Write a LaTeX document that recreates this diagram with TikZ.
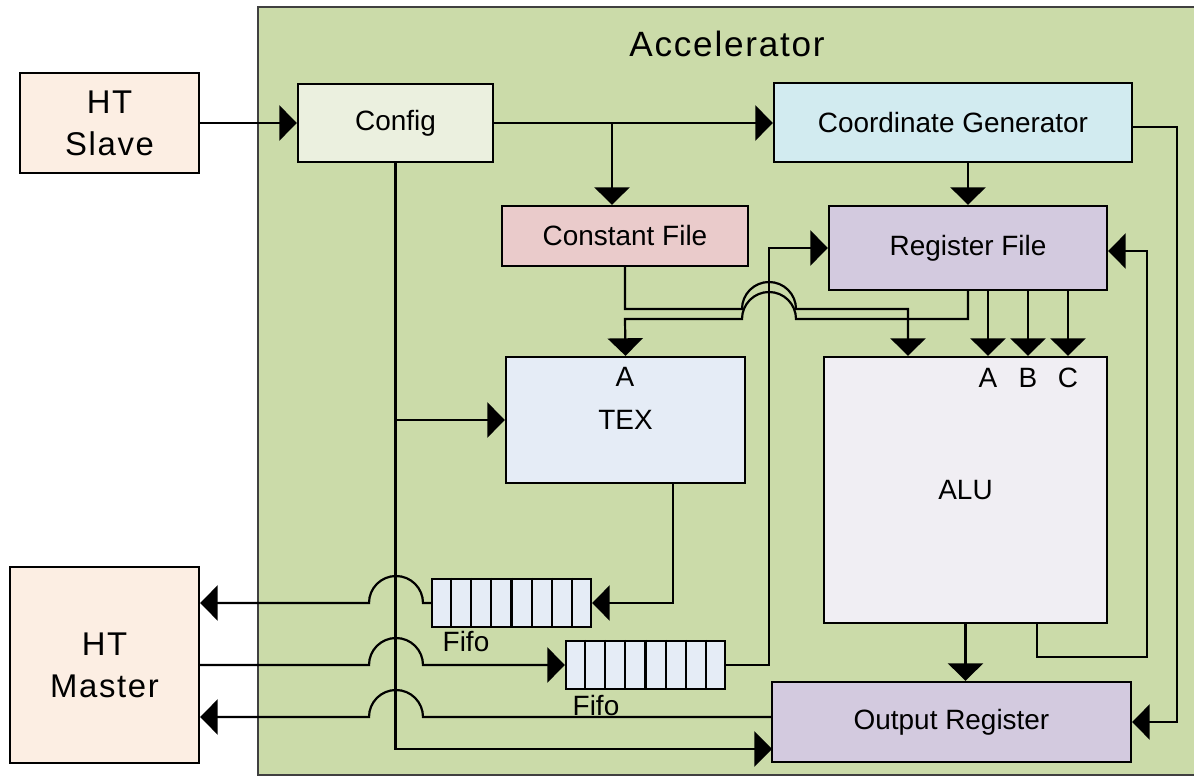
\documentclass[tikz,border=0pt]{standalone}
\usepackage{fontspec}
\setmainfont{Liberation Sans}
\newfontfamily\widefont{Liberation Sans}[LetterSpace=5]
\usetikzlibrary{arrows.meta,calc}

\definecolor{accgreen}{RGB}{203,219,169}
\definecolor{htpeach}{RGB}{252,238,227}
\definecolor{cfgfill}{RGB}{235,240,223}
\definecolor{coordfill}{RGB}{210,235,240}
\definecolor{constfill}{RGB}{234,203,203}
\definecolor{regfill}{RGB}{211,202,223}
\definecolor{texfill}{RGB}{229,236,246}
\definecolor{alufill}{RGB}{240,238,243}

% one drawing unit is 0.02cm; boxes are given as width x height in those units
\tikzset{
  blk/.style 2 args={draw=black, line width=1.3pt, inner sep=0pt, align=center,
              minimum width=#1*0.02cm, minimum height=#2*0.02cm,
              font=\fontsize{15.9}{19}\selectfont},
  htfont/.style={font=\widefont\fontsize{18.7}{23.8}\selectfont},
  lbl/.style={inner sep=0pt, font=\fontsize{15.9}{19}\selectfont},
  wire/.style={line width=1.25pt},
  arr/.style={wire, -{Triangle[length=10pt,width=20pt]}},
  cellline/.style={line width=1.2pt},
}

\begin{document}
\begin{tikzpicture}[x=0.02cm,y=-0.02cm]
\useasboundingbox (0,0) rectangle (1194,776);

% accelerator enclosure
\node[draw=black!75, line width=0.9pt, fill=accgreen, inner sep=0pt,
      minimum width=982*0.02cm, minimum height=768*0.02cm] (acc) at (749,391) {};
\node[inner sep=0pt, font=\widefont\fontsize{20}{24}\selectfont] (acctitle) at (727,44) {Accelerator};

% host side blocks
\node[blk={179}{100}, fill=htpeach, htfont] (slave)  at (109.5,123) {HT\\Slave};
\node[blk={189}{196}, fill=htpeach, htfont] (master) at (104.5,665) {HT\\Master};

% accelerator blocks
\node[blk={195}{78},  fill=cfgfill]   (config) at (395.5,123)  {Config};
\node[blk={358}{79},  fill=coordfill] (coord)  at (953,122.5)  {Coordinate Generator};
\node[blk={246}{60},  fill=constfill] (const)  at (625,236)    {Constant File};
\node[blk={278}{84},  fill=regfill]   (regf)   at (968,248)    {Register File};
\node[blk={239}{126}, fill=texfill]   (tex)    at (625.5,420)  {TEX};
\node[blk={283}{266}, fill=alufill]   (alu)    at (965.5,490)  {ALU};
\node[blk={359}{80},  fill=regfill]   (outr)   at (951.5,722)  {Output Register};

% fifos with eight cells each
\node[blk={159}{48}, fill=texfill] (fifo1) at (511.5,603) {};
\node[blk={159}{48}, fill=texfill] (fifo2) at (645.5,665) {};
\foreach \f in {fifo1,fifo2}
  \foreach \i in {1,...,7}
    \draw[cellline] ($(\f.north west)!\i/8!(\f.north east)$) -- ($(\f.south west)!\i/8!(\f.south east)$);
\node[lbl] (fifo1lbl) at (466,642) {Fifo};
\node[lbl] (fifo2lbl) at (596,706) {Fifo};

% port labels
\node[lbl] (texA) at (625,377) {A};
\node[lbl] (aluA) at (988,378) {A};
\node[lbl] (aluB) at (1028,378) {B};
\node[lbl] (aluC) at (1068,378) {C};

% bend points
\coordinate (orin)  at (772,749);
\coordinate (orout) at (772,717);
\coordinate (cgout) at (1132,127);

% configuration paths
\draw[arr] (slave.east) -- (config.west);
\draw[arr] (config.east) -- (config.east -| coord.west);
\draw[arr] (config.east -| 612,0) -- (const.north -| 612,0);
\draw[arr] (config.south) |- (orin);
\draw[arr] (config.south |- tex.west) -- (tex.west);

% coordinate generator
\draw[arr] (regf.north |- coord.south) -- (regf.north);
\draw[arr] (cgout) -- (1177,127) -- (1177,722) -- (outr.east);

% register file to TEX, hopping over the fifo return line
\draw[arr] (regf.south) -- (968,319) -- (796,319)
  arc[start angle=0, end angle=-180, radius=27] -- (625,319) -- (tex.north);
% constant file to ALU
\draw[arr] (const.south) -- (625,309) -- (742,309)
  arc[start angle=180, end angle=360, radius=27] -- (908,309) -- (alu.north -| 908,0);

% register file operands A, B, C
\foreach \x in {988,1028,1068}
  \draw[arr] (regf.south -| \x,0) -- (alu.north -| \x,0);

% ALU outputs
\draw[arr] (alu.south) -- (alu.south |- outr.north);
\draw[arr] (alu.south -| 1037,0) -- (1037,657) -- (1147,657) -- (1147,251) -- (regf.east |- 0,251);

% TEX to fifo to host
\draw[arr] (tex.south -| 673,0) |- (fifo1.east);
\draw[arr] (fifo1.west) -- (423,603)
  arc[start angle=0, end angle=-180, radius=27] -- (master.east |- fifo1.west);

% host to fifo to register file
\draw[arr] (master.east |- fifo2.west) -- (369,665)
  arc[start angle=180, end angle=360, radius=27] -- (fifo2.west);
\draw[arr] (fifo2.east) -- (769,665) -- (769,248) -- (regf.west);

% output register to host
\draw[arr] (orout) -- (423,717)
  arc[start angle=0, end angle=-180, radius=27] -- (master.east |- orout);

\end{tikzpicture}
\end{document}
